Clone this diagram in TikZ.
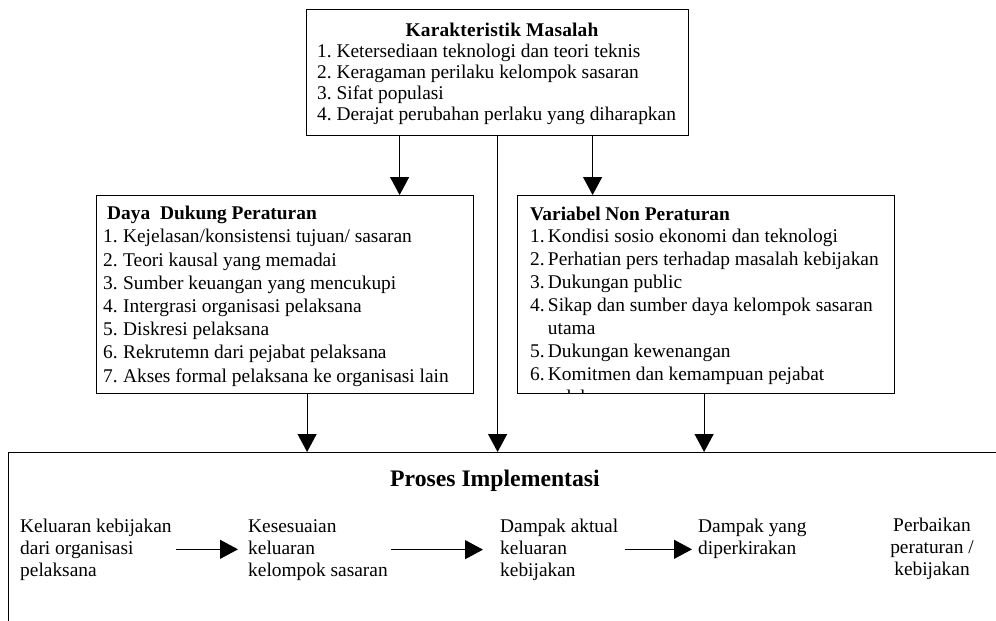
\documentclass[tikz,border=0pt]{standalone}
\usepackage{fontspec}
\setmainfont{Liberation Serif}
\usetikzlibrary{positioning,arrows.meta}

\begin{document}
\frenchspacing
\begin{tikzpicture}[x=1pt,y=-1pt,
    box/.style={draw,line width=1.2pt,inner sep=0pt,anchor=north west},
    txt/.style={inner sep=0pt,align=left,anchor=base west,font=\fontsize{19.4}{22}\selectfont},
    judul/.style={inner sep=0pt,anchor=base west,font=\bfseries\fontsize{19.4}{20}\selectfont},
    arr/.style={line width=1.2pt,-{Triangle[length=18pt,width=19pt]}}]
  \clip (0,0) rectangle (996,621);

  \node[box,minimum width=382pt,minimum height=126pt] (masalah) at (306,9) {};
  \node[judul,anchor=base,font=\bfseries\fontsize{19.4}{20}\selectfont\addfontfeature{LetterSpace=1}] (masalahjudul) at (502,36) {Karakteristik Masalah};
  \node[txt,font=\fontsize{19.4}{20.7}\selectfont] (masalahisi) at (317,120)
    {1. Ketersediaan teknologi dan teori teknis\\
     2. Keragaman perilaku kelompok sasaran\\
     3. Sifat populasi\\
     4. Derajat perubahan perlaku yang diharapkan};

  \node[box,minimum width=377pt,minimum height=198pt] (daya) at (96,195) {};
  \node[judul] (dayajudul) at (107,219) {Daya\ \ Dukung Peraturan};
  \node[txt,font=\fontsize{19.4}{23.2}\selectfont] (dayaisi) at (103,382)
    {1.\;Kejelasan/konsistensi tujuan/ sasaran\\
     2.\;Teori kausal yang memadai\\
     3.\;Sumber keuangan yang mencukupi\\
     4.\;Intergrasi organisasi pelaksana\\
     5.\;Diskresi pelaksana\\
     6.\;Rekrutemn dari pejabat pelaksana\\
     7.\;Akses formal pelaksana ke organisasi lain};

  \node[box,minimum width=377pt,minimum height=198pt] (nonperaturan) at (517,195) {};
  \node[judul] (nonjudul) at (530,220) {Variabel Non Peraturan};
  \begin{scope}
    \clip (517,195) rectangle (894,393);
    \node[txt,font=\fontsize{19.4}{23}\selectfont] (nonisi) at (530,403)
      {1.\,Kondisi sosio ekonomi dan teknologi\\
       2.\,Perhatian pers terhadap masalah kebijakan\\
       3.\,Dukungan public\\
       4.\,Sikap dan sumber daya kelompok sasaran\\
       \hphantom{4.\,}utama\\
       5.\,Dukungan kewenangan\\
       6.\,Komitmen dan kemampuan pejabat\\
       \hphantom{6.\,}pelaksana};
  \end{scope}

  \node[box,minimum width=1000pt,minimum height=200pt] (proses) at (8,452) {};
  \node[judul,anchor=base,font=\bfseries\fontsize{23.7}{26}\selectfont] (prosesjudul) at (495,486) {Proses Implementasi};

  \node[txt] (keluaran) at (20,576) {Keluaran kebijakan\\dari organisasi\\pelaksana};
  \node[txt] (kesesuaian) at (248,576) {Kesesuaian\\keluaran\\kelompok sasaran};
  \node[txt] (aktual) at (500,576) {Dampak aktual\\keluaran\\kebijakan};
  \node[txt] (perkiraan) at (698,554) {Dampak yang\\diperkirakan};
  \node[txt,align=center,anchor=base] (perbaikan) at (932,575) {Perbaikan\\peraturan /\\kebijakan};

  \draw[arr] ([xshift=-98pt]masalah.south) -- ([xshift=-98pt]masalah.south |- daya.north);
  \draw[arr] ([xshift=95pt]masalah.south) -- ([xshift=95pt]masalah.south |- nonperaturan.north);
  \draw[arr] (masalah.south) -- (masalah.south |- proses.north);
  \draw[arr] ([xshift=22pt]daya.south) -- ([xshift=22pt]daya.south |- proses.north);
  \draw[arr] ([xshift=-2pt]nonperaturan.south) -- ([xshift=-2pt]nonperaturan.south |- proses.north);

  \draw[arr,shorten <=4pt,shorten >=10pt] (keluaran.east) -- (keluaran.east -| kesesuaian.west);
  \draw[arr,shorten <=3pt,shorten >=17pt] (kesesuaian.east) -- (kesesuaian.east -| aktual.west);
  \draw[arr,shorten <=7pt,shorten >=6pt] (aktual.east) -- (aktual.east -| perkiraan.west);
\end{tikzpicture}
\end{document}
